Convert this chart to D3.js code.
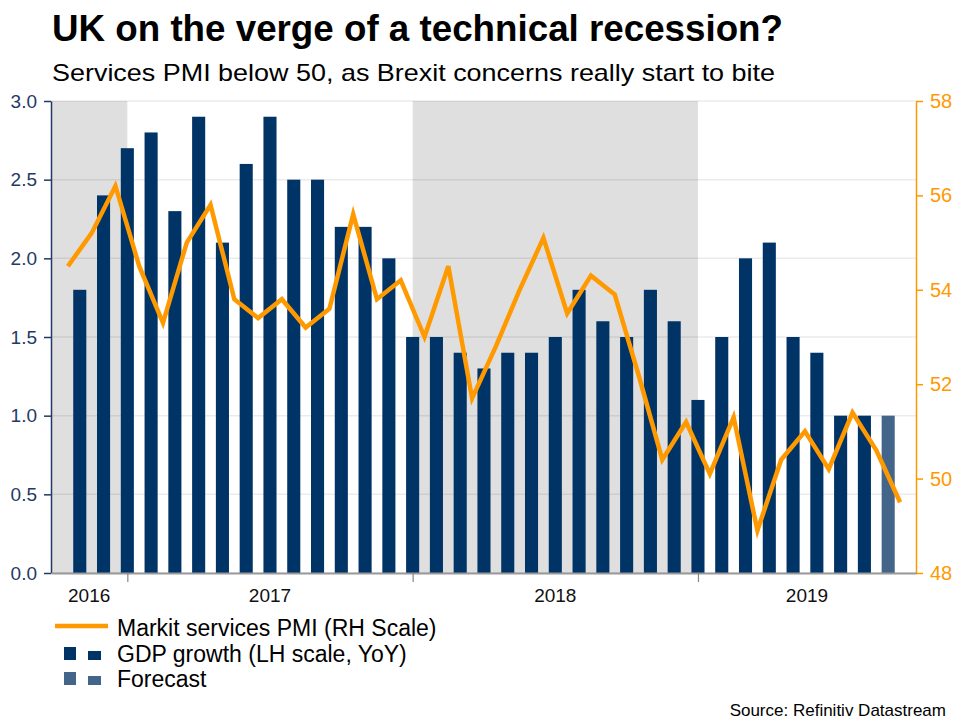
<!DOCTYPE html>
<html>
<head>
<meta charset="utf-8">
<script src="https://cdnjs.cloudflare.com/ajax/libs/d3/7.8.5/d3.min.js"></script>
<style>
  html, body { margin: 0; padding: 0; background: #fff; }
  svg { display: block; font-family: "Liberation Sans", Arial, sans-serif; }
</style>
</head>
<body>
<svg id="chart" width="960" height="720"></svg>
<script>
// ---- Data (months counted from Jan 2017 = 0) ----
const pmiStartMonth = -2.5;   // mid-Oct 2016
const pmiValues = [54.5, 55.2, 56.2, 54.5, 53.3, 55.0, 55.8, 53.8, 53.4, 53.8, 53.2, 53.6,
                   55.6, 53.8, 54.2, 53.0, 54.5, 51.7, 52.8, 54.0, 55.1, 53.5, 54.3, 53.9,
                   52.2, 50.4, 51.2, 50.1, 51.3, 48.9, 50.4, 51.0, 50.2, 51.4, 50.6, 49.5];
const gdpStartMonth = -2;     // Nov 2016
const gdpActual = [1.8, 2.4, 2.7, 2.8, 2.3, 2.9, 2.1, 2.6, 2.9, 2.5, 2.5, 2.2,
                   2.2, 2.0, 1.5, 1.5, 1.4, 1.3, 1.4, 1.4, 1.5, 1.8, 1.6, 1.5,
                   1.8, 1.6, 1.1, 1.5, 2.0, 2.1, 1.5, 1.4, 1.0, 1.0];
const gdpForecast = [1.0];
const yearLabels = ["2016", "2017", "2018", "2019"];
const yearStarts = [-12, 0, 12, 24];
const shadedYears = ["2016", "2018"];
const leftTicks = [0, 0.5, 1.0, 1.5, 2.0, 2.5, 3.0];
const rightTicks = [48, 50, 52, 54, 56, 58];

const title = "UK on the verge of a technical recession?";
const subtitle = "Services PMI below 50, as Brexit concerns really start to bite";
const source = "Source: Refinitiv Datastream";
const legendItems = ["Markit services PMI (RH Scale)", "GDP growth (LH scale, YoY)", "Forecast"];

// ---- Colours ----
const navy = "#003366";
const forecastCol = "#436589";
const orange = "#FF9900";
const axisNavy = "#1f3a64";

// ---- Layout ----
const svg = d3.select("#chart");
const plot = { left: 51, right: 916, top: 101, bottom: 573 };

const x = d3.scaleLinear().domain([-3.21, 33.17]).range([plot.left, plot.right]);
const yL = d3.scaleLinear().domain([0, 3]).range([plot.bottom, plot.top]);
const yR = d3.scaleLinear().domain([48, 58]).range([plot.bottom, plot.top]);

// Shaded years
const [dMin, dMax] = x.domain();
yearLabels.forEach((yl, i) => {
  if (!shadedYears.includes(yl)) return;
  const a = Math.max(dMin, yearStarts[i]);
  const b = Math.min(dMax, yearStarts[i] + 12);
  svg.append("rect")
    .attr("x", x(a)).attr("y", plot.top)
    .attr("width", x(b) - x(a)).attr("height", plot.bottom - plot.top)
    .attr("fill", "#dfdfdf");
});

// Gridlines
svg.append("g").selectAll("line").data(leftTicks).join("line")
  .attr("x1", plot.left).attr("x2", plot.right)
  .attr("y1", d => yL(d)).attr("y2", d => yL(d))
  .attr("stroke", "#000").attr("stroke-opacity", 0.08).attr("stroke-width", 1.5);

// Bars
const bars = gdpActual.map((v, i) => ({ m: gdpStartMonth + i, v, f: false }))
  .concat(gdpForecast.map((v, i) => ({ m: gdpStartMonth + gdpActual.length + i, v, f: true })));
const bw = (x(1) - x(0)) * 0.55;
svg.append("g").selectAll("rect").data(bars).join("rect")
  .attr("x", d => x(d.m) - bw / 2)
  .attr("width", bw)
  .attr("y", d => yL(d.v))
  .attr("height", d => yL(0) - yL(d.v))
  .attr("fill", d => d.f ? forecastCol : navy);

// PMI line
const pmi = pmiValues.map((v, i) => ({ m: pmiStartMonth + i, v }));
svg.append("path").datum(pmi)
  .attr("fill", "none").attr("stroke", orange).attr("stroke-width", 4.5)
  .attr("stroke-linejoin", "miter")
  .attr("d", d3.line().x(d => x(d.m)).y(d => yR(d.v)));

// Left axis
const gL = svg.append("g").attr("transform", `translate(${plot.left},0)`)
  .call(d3.axisLeft(yL).tickValues(leftTicks).tickFormat(d3.format(".1f")).tickSize(7).tickSizeOuter(0).tickPadding(7));
gL.select(".domain").attr("stroke", axisNavy).attr("stroke-width", 1.5);
gL.selectAll(".tick line").attr("stroke", axisNavy).attr("stroke-width", 1.5);
gL.selectAll(".tick text").attr("fill", axisNavy).style("font-size", "19px")
  .style("font-family", "'Liberation Sans', Arial, sans-serif");

// Right axis
const gR = svg.append("g").attr("transform", `translate(${plot.right},0)`)
  .call(d3.axisRight(yR).tickValues(rightTicks).tickSize(7).tickSizeOuter(0).tickPadding(7));
gR.select(".domain").attr("stroke", orange).attr("stroke-width", 1.5);
gR.selectAll(".tick line").attr("stroke", orange).attr("stroke-width", 1.5);
gR.selectAll(".tick text").attr("fill", orange).style("font-size", "20px")
  .style("font-family", "'Liberation Sans', Arial, sans-serif");

// Bottom axis
const gB = svg.append("g").attr("transform", `translate(0,${plot.bottom})`)
  .call(d3.axisBottom(x).tickValues(yearStarts.filter(t => t > dMin && t < dMax)).tickFormat("").tickSize(9).tickSizeOuter(0));
gB.select(".domain").attr("stroke", "#999").attr("stroke-width", 2);
gB.selectAll(".tick line").attr("stroke", "#888").attr("stroke-width", 1.2);

// Year labels centred in visible range
yearLabels.forEach((yl, i) => {
  const a = Math.max(dMin, yearStarts[i]);
  const b = Math.min(dMax, yearStarts[i] + 12);
  svg.append("text")
    .attr("x", (x(a) + x(b)) / 2).attr("y", 602)
    .attr("text-anchor", "middle")
    .attr("fill", "#111").style("font-size", "19px")
    .text(yl);
});

// Title & subtitle
svg.append("text").attr("x", 52).attr("y", 41)
  .style("font-size", "36px").style("font-weight", "bold").attr("fill", "#000")
  .attr("textLength", 731).attr("lengthAdjust", "spacingAndGlyphs")
  .text(title);
svg.append("text").attr("x", 52).attr("y", 81)
  .style("font-size", "24px").attr("fill", "#000")
  .attr("textLength", 723).attr("lengthAdjust", "spacingAndGlyphs")
  .text(subtitle);

// Legend
const lg = svg.append("g");
lg.append("line").attr("x1", 55).attr("x2", 108).attr("y1", 626).attr("y2", 626)
  .attr("stroke", orange).attr("stroke-width", 4.5);
const markerRows = [{ y: 660, c: navy }, { y: 685, c: forecastCol }];
markerRows.forEach(r => {
  lg.append("rect").attr("x", 64).attr("y", r.y - 13).attr("width", 12).attr("height", 13).attr("fill", r.c);
  lg.append("rect").attr("x", 88).attr("y", r.y - 9).attr("width", 13).attr("height", 9).attr("fill", r.c);
});
const legendBaselines = [636, 662, 687];
legendItems.forEach((t, i) => {
  lg.append("text").attr("x", 117).attr("y", legendBaselines[i])
    .style("font-size", "23px").attr("fill", "#000").text(t);
});

// Source
svg.append("text").attr("x", 946).attr("y", 716).attr("text-anchor", "end")
  .style("font-size", "17px").attr("fill", "#000").text(source);
</script>
</body>
</html>
